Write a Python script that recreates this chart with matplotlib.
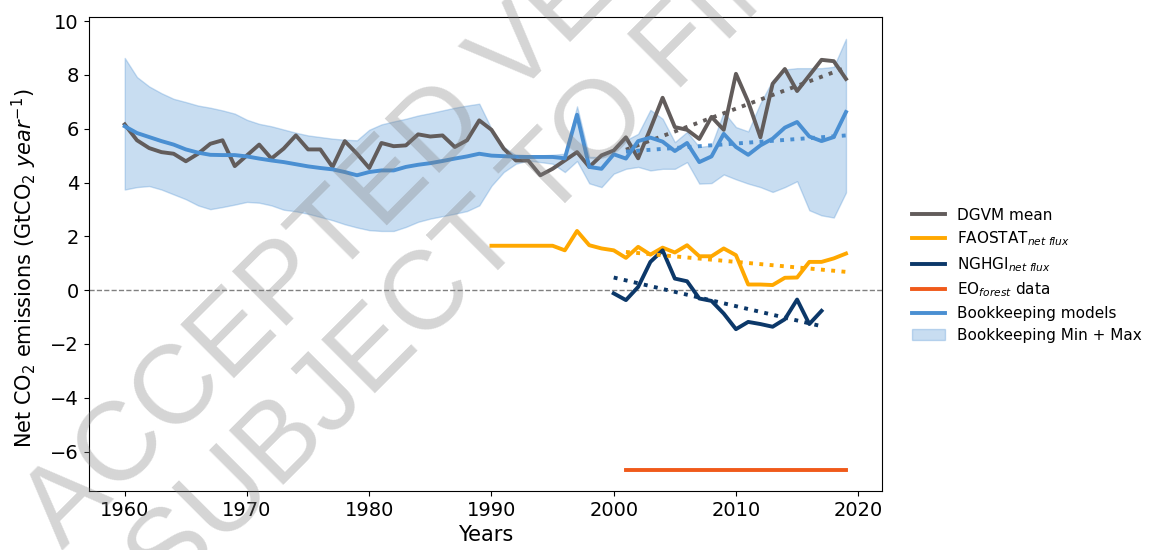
import matplotlib
matplotlib.use("Agg")
import matplotlib.pyplot as plt
import numpy as np

years_all = list(range(1960, 2020))

dgvm_mean = [6.16, 5.57, 5.28, 5.13, 5.07, 4.79, 5.07, 5.44, 5.57, 4.61,
             5.01, 5.41, 4.89, 5.26, 5.75, 5.23, 5.23, 4.58, 5.54, 5.07,
             4.54, 5.47, 5.35, 5.38, 5.79, 5.71, 5.75, 5.32, 5.57, 6.31,
             5.96, 5.26, 4.82, 4.82, 4.27, 4.51, 4.82, 5.13, 4.58, 5.01,
             5.19, 5.68, 4.90, 6.00, 7.15, 6.06, 5.96, 5.62, 6.44, 5.96,
             8.04, 7.00, 5.68, 7.67, 8.22, 7.40, 7.98, 8.56, 8.51, 7.85]

bk_mean = [6.09, 5.84, 5.69, 5.54, 5.41, 5.23, 5.11, 5.03, 5.02, 5.02,
           4.97, 4.89, 4.82, 4.76, 4.68, 4.60, 4.54, 4.49, 4.39, 4.27,
           4.39, 4.45, 4.45, 4.58, 4.66, 4.72, 4.80, 4.89, 4.97, 5.07,
           5.00, 4.98, 4.96, 4.95, 4.95, 4.95, 4.90, 6.52, 4.58, 4.51,
           5.05, 4.89, 5.54, 5.67, 5.52, 5.17, 5.47, 4.76, 4.97, 5.81,
           5.32, 5.03, 5.38, 5.63, 6.04, 6.25, 5.71, 5.54, 5.69, 6.62]

bk_max = [8.63, 7.92, 7.57, 7.32, 7.11, 6.99, 6.86, 6.78, 6.68, 6.56,
          6.33, 6.18, 6.09, 5.97, 5.85, 5.75, 5.69, 5.63, 5.59, 5.57,
          5.96, 6.16, 6.27, 6.37, 6.49, 6.58, 6.68, 6.78, 6.86, 6.93,
          6.00, 5.32, 5.01, 5.01, 5.01, 5.03, 5.07, 6.83, 4.95, 4.95,
          5.26, 5.57, 5.81, 6.70, 6.37, 5.50, 5.88, 5.32, 5.38, 6.62,
          6.06, 5.90, 6.95, 7.80, 8.20, 8.25, 8.25, 8.25, 8.30, 9.34]

bk_min = [3.74, 3.83, 3.87, 3.74, 3.56, 3.38, 3.15, 3.01, 3.09, 3.18,
          3.28, 3.25, 3.15, 2.99, 2.93, 2.84, 2.72, 2.60, 2.45, 2.33,
          2.23, 2.20, 2.20, 2.35, 2.54, 2.66, 2.75, 2.84, 2.94, 3.15,
          3.88, 4.39, 4.70, 4.82, 4.76, 4.70, 4.39, 4.80, 3.97, 3.83,
          4.33, 4.51, 4.58, 4.45, 4.51, 4.51, 4.76, 3.96, 3.98, 4.30,
          4.12, 3.96, 3.83, 3.65, 3.83, 4.05, 2.97, 2.78, 2.70, 3.63]

fao_years = list(range(1990, 2020))
fao_flux = [1.65, 1.65, 1.65, 1.65, 1.65, 1.65, 1.48, 2.20, 1.67, 1.55,
            1.48, 1.20, 1.61, 1.32, 1.58, 1.40, 1.67, 1.26, 1.26, 1.55,
            1.30, 0.21, 0.21, 0.19, 0.46, 0.47, 1.05, 1.05, 1.18, 1.36]

nghgi_years = list(range(2000, 2018))
nghgi_flux = [-0.12, -0.37, 0.12, 1.05, 1.48, 0.43, 0.33, -0.31, -0.40, -0.87,
              -1.45, -1.18, -1.26, -1.36, -1.08, -0.35, -1.26, -0.77]

eo_years = [2001, 2019]
eo_forest = [-6.68, -6.68]

# trend line end points
dgvm_trend_years = [2001, 2019]
dgvm_trend = [5.22, 8.27]
bk_trend_years = [2001, 2019]
bk_trend = [5.15, 5.75]
fao_trend_years = [2001, 2019]
fao_trend = [1.42, 0.68]
nghgi_trend_years = [2000, 2017]
nghgi_trend = [0.47, -1.34]

C_DGVM = '#625c5b'
C_FAO = '#ffa800'
C_NGHGI = '#0c3869'
C_EO = '#f05a1a'
C_BK = '#4a8fd2'

fig = plt.figure(figsize=(11.53, 5.5), dpi=100)
ax = fig.add_axes([0.0769, 0.107, 0.765 - 0.0769, 0.969 - 0.107])

lw = 2.8
ax.fill_between(years_all, bk_min, bk_max, color=C_BK, alpha=0.3, lw=1,
                label='Bookkeeping Min + Max', zorder=1)
ax.axhline(0, color='grey', ls='--', lw=1, zorder=2)
ax.plot(years_all, dgvm_mean, color=C_DGVM, lw=lw, label='DGVM mean', zorder=3)
ax.plot(fao_years, fao_flux, color=C_FAO, lw=lw, label='FAOSTAT$_{net\\ flux}$', zorder=3)
ax.plot(nghgi_years, nghgi_flux, color=C_NGHGI, lw=lw, label='NGHGI$_{net\\ flux}$', zorder=3)
ax.plot(eo_years, eo_forest, color=C_EO, lw=lw, label='EO$_{forest}$ data', zorder=3)
ax.plot(years_all, bk_mean, color=C_BK, lw=lw, label='Bookkeeping models', zorder=4)

ax.plot(dgvm_trend_years, dgvm_trend, color=C_DGVM, lw=lw, ls=':', zorder=3)
ax.plot(bk_trend_years, bk_trend, color=C_BK, lw=lw, ls=':', zorder=3)
ax.plot(fao_trend_years, fao_trend, color=C_FAO, lw=lw, ls=':', zorder=3)
ax.plot(nghgi_trend_years, nghgi_trend, color=C_NGHGI, lw=lw, ls=':', zorder=3)

ax.set_xlim(1957.05, 2021.95)
ax.set_ylim(-7.47, 10.15)
ax.set_yticks([-6, -4, -2, 0, 2, 4, 6, 8, 10])
ax.tick_params(labelsize=14)
ax.set_xlabel('Years', fontsize=15)
ax.set_ylabel('Net CO$_2$ emissions (GtCO$_2$ $year^{-1}$)', fontsize=15)
ax.yaxis.set_label_coords(-0.062, 0.47)

handles, labels = ax.get_legend_handles_labels()
order = [1, 2, 3, 4, 5, 0]
ax.legend([handles[i] for i in order], [labels[i] for i in order],
          loc='center left', bbox_to_anchor=(1.02, 0.455), frameon=False,
          fontsize=11, handlelength=2.2, labelspacing=0.45)

# watermark
wm_kw = dict(fontsize=80, color='grey', alpha=0.33, rotation=45,
             rotation_mode='anchor', ha='left', va='baseline',
             family='Liberation Sans', zorder=10)
fig.text(62 / 1153, 1 - 550 / 550, 'ACCEPTED VERSION', **wm_kw)
fig.text(168 / 1153, 1 - 600 / 550, 'SUBJECT TO FINAL EDITS', **wm_kw)

fig.savefig('out.png', dpi=100)
